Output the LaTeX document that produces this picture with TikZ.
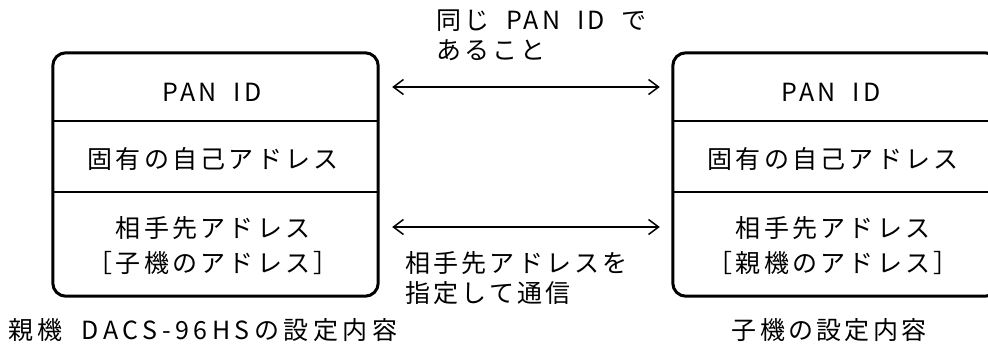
\documentclass[tikz,border=0pt]{standalone}
\usepackage{fontspec}
\setmainfont{Noto Sans CJK JP}[LetterSpace=13, WordSpace=1.9]
\usetikzlibrary{arrows.meta}
\tikzset{
  cell/.style={minimum width=325pt, inner sep=0pt},
  txt/.style={inner sep=0pt, align=center, font=\fontsize{25}{35}\selectfont},
  boxline/.style={line width=3pt, rounded corners=13pt},
  divider/.style={line width=2pt},
  conn/.style={line width=1.5pt, {Straight Barb[length=10pt,width=15pt]}-{Straight Barb[length=10pt,width=15pt]}, shorten <=14pt, shorten >=13pt},
  lbl/.style={inner sep=0pt, align=left, font=\fontsize{25}{30}\selectfont}
}
\begin{document}
\begin{tikzpicture}[x=1pt,y=-1pt]
\useasboundingbox (0,0) rectangle (988,346);
\clip (0,0) rectangle (988,346);
% left box cells
\node[cell, minimum height=68pt] (lpan) at (215.5,87) {};
\node[cell, minimum height=71pt] (lself) at (215.5,156.5) {};
\node[cell, minimum height=104pt] (lpeer) at (215.5,244) {};
\node[txt] (lpant) at (212,92) {PAN ID};
\node[txt] (lselft) at (213,159) {固有の自己アドレス};
\node[txt] (lpeert) at (213,246) {相手先アドレス\\［子機のアドレス］};
% right box cells
\node[cell, minimum height=68pt] (rpan) at (835.5,87) {};
\node[cell, minimum height=71pt] (rself) at (835.5,156.5) {};
\node[cell, minimum height=104pt] (rpeer) at (835.5,244) {};
\node[txt] (rpant) at (831,92) {PAN ID};
\node[txt] (rselft) at (833,159) {固有の自己アドレス};
\node[txt] (rpeert) at (833,246) {相手先アドレス\\［親機のアドレス］};
% outlines
\draw[boxline] (lpan.north west) rectangle (lpeer.south east);
\draw[divider] (lpan.south west) -- (lpan.south east);
\draw[divider] (lself.south west) -- (lself.south east);
\draw[boxline] (rpan.north west) rectangle (rpeer.south east);
\draw[divider] (rpan.south west) -- (rpan.south east);
\draw[divider] (rself.south west) -- (rself.south east);
% connectors
\draw[conn] (lpan.east) -- (rpan.west);
\draw[conn] ([yshift=17pt]lpeer.east) -- ([yshift=17pt]rpeer.west);
% labels
\node[lbl, anchor=west] (toplbl) at (436,35) {同じ PAN ID で\\あること};
\node[lbl, anchor=west] (botlbl) at (405,278) {相手先アドレスを\\指定して通信};
\node[lbl, anchor=west] (lcap) at (8,330) {\addfontfeature{LetterSpace=18}親機 DACS-96HSの設定内容};
\node[lbl] (rcap) at (829,330) {子機の設定内容};
\end{tikzpicture}
\end{document}
